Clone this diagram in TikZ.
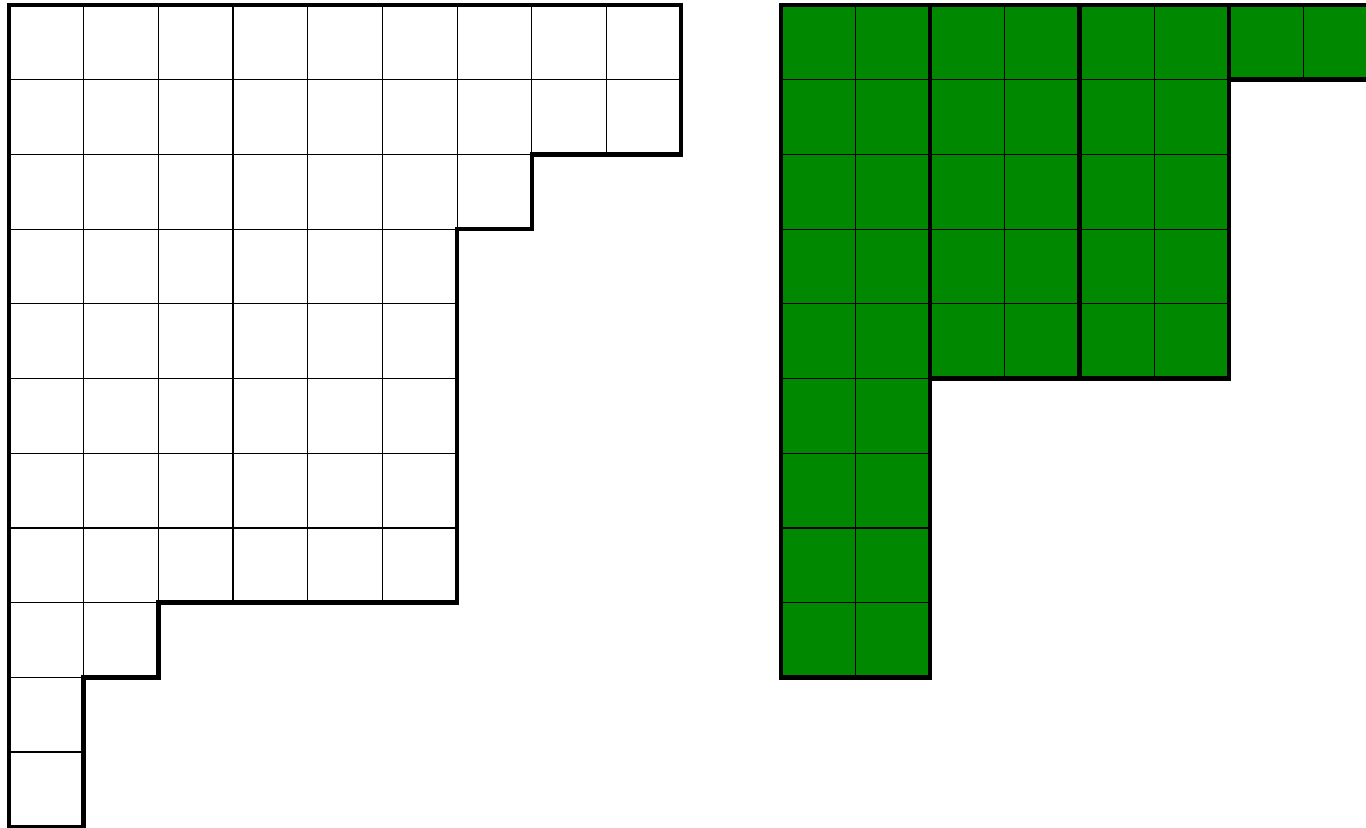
\documentclass[tikz,border=0pt]{standalone}
\definecolor{cellgreen}{RGB}{0,136,0}
\tikzset{
  gridline/.style={line width=0.45pt, draw=black},
  outline/.style={line width=1.7pt, draw=black},
  greencell/.style={fill=cellgreen}
}
\begin{document}
\begin{tikzpicture}
\useasboundingbox (-0.119,0.067) rectangle (18.167,-11.004);
\clip (-0.119,0.067) rectangle (18.167,-11.004);
% Left diagram: rows 9,9,7,6,6,6,6,6,2,1,1
\foreach \len [count=\r] in {9,9,7,6,6,6,6,6,2,1,1} {
  \draw[gridline] (0,-\r) -- (\len,-\r);
  \foreach \c in {1,...,\len} {
    \draw[gridline] (\c,-\r+1) -- (\c,-\r);
  }
}
\draw[outline] (0,0) -- (9,0) -- (9,-2) -- (7,-2) -- (7,-3) -- (6,-3) -- (6,-8) -- (2,-8) -- (2,-9) -- (1,-9) -- (1,-11) -- (0,-11) -- cycle;
% Right diagram: rows 8,6,6,6,6,2,2,2,2
\begin{scope}[xshift=10.333cm]
\fill[greencell] (0,0) -- (8,0) -- (8,-1) -- (6,-1) -- (6,-5) -- (2,-5) -- (2,-9) -- (0,-9) -- cycle;
\foreach \len [count=\r] in {8,6,6,6,6,2,2,2,2} {
  \draw[gridline] (0,-\r) -- (\len,-\r);
  \foreach \c in {1,...,\len} {
    \draw[gridline] (\c,-\r+1) -- (\c,-\r);
  }
}
\draw[outline] (0,0) rectangle (2,-9);
\draw[outline] (2,0) rectangle (4,-5);
\draw[outline] (4,0) rectangle (6,-5);
\draw[outline] (6,0) rectangle (8,-1);
\end{scope}
\end{tikzpicture}
\end{document}
